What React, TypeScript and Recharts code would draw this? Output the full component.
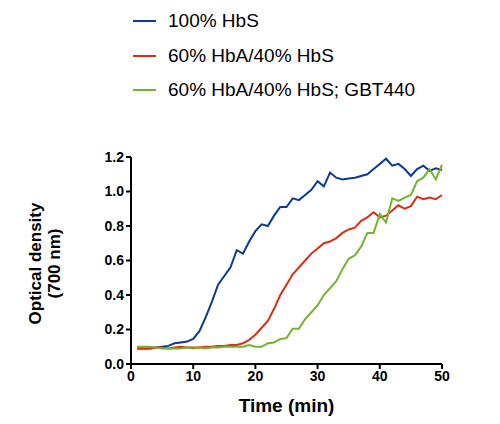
import { Label, Line, LineChart, XAxis, YAxis } from "recharts";

const minutes = [
  1, 2, 3, 4, 5, 6, 7, 8, 9, 10, 11, 12, 13, 14, 15, 16, 17, 18, 19, 20, 21, 22, 23, 24, 25,
  26, 27, 28, 29, 30, 31, 32, 33, 34, 35, 36, 37, 38, 39, 40, 41, 42, 43, 44, 45, 46, 47, 48, 49, 50,
];

const hbs100 = [
  0.09, 0.09, 0.09, 0.095, 0.1, 0.105, 0.12, 0.125, 0.13, 0.145, 0.19, 0.27, 0.36, 0.46, 0.51,
  0.56, 0.66, 0.64, 0.71, 0.77, 0.81, 0.8, 0.86, 0.91, 0.91, 0.96, 0.95, 0.98, 1.01, 1.06, 1.03,
  1.11, 1.08, 1.07, 1.075, 1.08, 1.09, 1.1, 1.13, 1.16, 1.19, 1.15, 1.16, 1.13, 1.09, 1.13, 1.15,
  1.12, 1.135, 1.125,
];

const hba60 = [
  0.09, 0.09, 0.09, 0.095, 0.095, 0.09, 0.095, 0.1, 0.095, 0.095, 0.095, 0.1, 0.1, 0.105, 0.105,
  0.11, 0.11, 0.12, 0.14, 0.17, 0.21, 0.25, 0.32, 0.4, 0.46, 0.52, 0.56, 0.6, 0.64, 0.67, 0.7,
  0.71, 0.73, 0.76, 0.78, 0.79, 0.83, 0.85, 0.88, 0.85, 0.86, 0.89, 0.92, 0.9, 0.915, 0.97, 0.955,
  0.965, 0.955, 0.98,
];

const hba60Gbt = [
  0.1, 0.1, 0.1, 0.095, 0.09, 0.09, 0.09, 0.09, 0.095, 0.09, 0.095, 0.09, 0.095, 0.095, 0.1, 0.1,
  0.1, 0.1, 0.11, 0.1, 0.1, 0.12, 0.125, 0.145, 0.15, 0.205, 0.205, 0.26, 0.3, 0.34, 0.4, 0.44,
  0.48, 0.55, 0.61, 0.63, 0.68, 0.76, 0.76, 0.87, 0.82, 0.96, 0.945, 0.965, 0.98, 1.06, 1.08, 1.13,
  1.07, 1.155,
];

const xTicks = [0, 10, 20, 30, 40, 50];
const yTicks = [0, 0.2, 0.4, 0.6, 0.8, 1.0, 1.2];

const series = [
  { key: "hbs100", name: "100% HbS", color: "#0b3a8e" },
  { key: "hba60", name: "60% HbA/40% HbS", color: "#de2c12" },
  { key: "hba60Gbt", name: "60% HbA/40% HbS; GBT440", color: "#72b42f" },
];

const data = minutes.map((t, i) => ({
  t,
  hbs100: hbs100[i],
  hba60: hba60[i],
  hba60Gbt: hba60Gbt[i],
}));

const FONT = "Arial, 'Liberation Sans', sans-serif";
const tickStyle = { fontSize: 14, fontWeight: 700, fill: "#000", fontFamily: FONT };

function LegendBox() {
  return (
    <div
      style={{ position: "absolute", top: 4, left: 133, fontFamily: FONT, fontSize: 19, color: "#000" }}
    >
      {series.map((s) => (
        <div key={s.key} style={{ display: "flex", alignItems: "center", height: 34.5 }}>
          <span
            style={{ display: "inline-block", width: 23, height: 2, background: s.color, marginRight: 12 }}
          />
          {s.name}
        </div>
      ))}
    </div>
  );
}

function YTitle({ viewBox }: any) {
  const cy = viewBox.y + viewBox.height / 2 + 3;
  return (
    <text
      transform={`rotate(-90, 45, ${cy})`}
      x={45}
      y={cy}
      textAnchor="middle"
      style={{ fontFamily: FONT, fontSize: 17, fontWeight: 700, fill: "#000" }}
    >
      <tspan x={45} dy={-4}>Optical density</tspan>
      <tspan x={45} dy={19}>(700 nm)</tspan>
    </text>
  );
}

export default function App() {
  return (
    <div style={{ position: "absolute", left: 0, top: 0, width: 500, height: 424, background: "#fff" }}>
      <LegendBox />
      <LineChart width={500} height={424} data={data} margin={{ top: 157, right: 58, bottom: 30, left: 71 }}>
        <XAxis
          dataKey="t"
          type="number"
          domain={[0, 50]}
          ticks={xTicks}
          interval={0}
          height={30}
          tick={tickStyle}
          tickSize={5}
          tickMargin={2}
          axisLine={{ stroke: "#000", strokeWidth: 2 }}
          tickLine={{ stroke: "#000", strokeWidth: 2 }}
        >
          <Label
            value="Time (min)"
            position="bottom"
            offset={5}
            style={{ fontFamily: FONT, fontSize: 19, fontWeight: 700, fill: "#000" }}
          />
        </XAxis>
        <YAxis
          type="number"
          domain={[0, 1.2]}
          ticks={yTicks}
          interval={0}
          width={60}
          tick={tickStyle}
          tickSize={5}
          tickMargin={2}
          tickFormatter={(v: number) => v.toFixed(1)}
          axisLine={{ stroke: "#000", strokeWidth: 2 }}
          tickLine={{ stroke: "#000", strokeWidth: 2 }}
        >
          <Label content={(props: any) => <YTitle {...props} />} />
        </YAxis>
        {series.map((s) => (
          <Line
            key={s.key}
            dataKey={s.key}
            name={s.name}
            stroke={s.color}
            strokeWidth={2}
            dot={false}
            type="linear"
            isAnimationActive={false}
          />
        ))}
      </LineChart>
    </div>
  );
}
